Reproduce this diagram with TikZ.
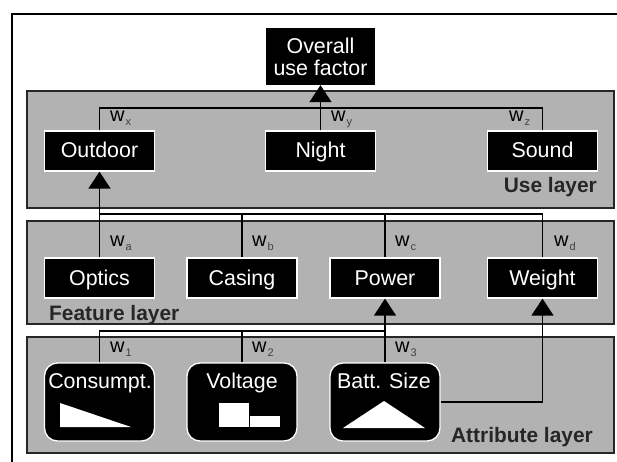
\documentclass[tikz,border=0pt]{standalone}
\usepackage{fontspec}
\setmainfont{Liberation Sans}
\usetikzlibrary{arrows.meta}
\definecolor{panelgray}{HTML}{B2B2B2}
\definecolor{subgray}{HTML}{404040}
\tikzset{
  panel/.style={draw=black!85,line width=1.5pt,fill=panelgray},
  box/.style={draw=white,line width=1.3pt,fill=black,text=white,minimum width=110pt,minimum height=40pt,inner sep=0pt,text height=14pt,text depth=0pt,font=\fontsize{21.4}{24}\selectfont},
  rbox/.style={draw=white,line width=1.3pt,fill=black,rounded corners=13pt,minimum width=110pt,minimum height=78pt,inner sep=0pt},
  rtext/.style={text=white,inner sep=0pt,anchor=base,font=\fontsize{21.4}{24}\selectfont},
  topbox/.style={fill=black,text=white,minimum width=109pt,minimum height=57pt,inner sep=0pt,align=center,font=\fontsize{21.4}{22}\selectfont},
  layerlabel/.style={inner sep=0pt,text=black!85,font=\fontsize{20.9}{22}\selectfont\bfseries},
  wlabel/.style={inner sep=0pt,anchor=base west,font=\fontsize{20}{22}\selectfont},
  wire/.style={draw=black,line width=1.5pt},
  arrowwire/.style={wire,-{Triangle[length=17pt,width=22pt]}},
  glyph/.style={fill=white,draw=none}
}
\newcommand{\wsub}[1]{w\raisebox{-4pt}{\hspace{1pt}\textcolor{subgray}{\fontsize{11}{11}\selectfont #1}}}
\begin{document}
\begin{tikzpicture}[x=1pt,y=-1pt]
\useasboundingbox (0,0) rectangle (617,462);
\fill[white] (0,0) rectangle (617,462);
\coordinate (ftl) at (12,14);
\coordinate (ftr) at (617,14);
\coordinate (fbl) at (12,462);
\draw[black,line width=1.5pt] (fbl) -- (ftl) -- (ftr);

% layers
\path[panel] (27,91) rectangle (614,208);
\path[panel] (27,221) rectangle (614,324);
\path[panel] (27,337) rectangle (614,453);

% bus points
\coordinate (ubus1) at (99.5,108);
\coordinate (ubus2) at (542.5,108);
\coordinate (fbus1) at (99.5,214);
\coordinate (fbus2) at (242,214);
\coordinate (fbus3) at (385,214);
\coordinate (fbus4) at (542.5,214);
\coordinate (abus1) at (99.5,331);
\coordinate (abus2) at (242,331);
\coordinate (abus3) at (385,331);
\coordinate (wcorner) at (542.5,402);

\node[topbox] (top) at (320.5,56.5) {Overall\\use factor};
\node[box] (outdoor) at (99.5,151) {Outdoor};
\node[box] (night) at (320.5,151) {Night};
\node[box] (sound) at (542.5,151) {Sound};
\node[box] (optics) at (99.5,278) {Optics};
\node[box] (casing) at (242,278) {Casing};
\node[box] (power) at (385,278) {Power};
\node[box] (weight) at (542.5,278) {Weight};
\node[rbox] (cons) at (99.5,402) {};
\node[rbox] (volt) at (242,402) {};
\node[rbox] (batt) at (385,402) {};

% connectors
\draw[wire] (outdoor.north) -- (ubus1) -- (ubus2) -- (sound.north);
\draw[arrowwire] (night.north) -- (top.south);
\draw[arrowwire] (optics.north) -- (outdoor.south);
\draw[wire] (fbus1) -- (fbus4) -- (weight.north);
\draw[wire] (fbus2) -- (casing.north);
\draw[wire] (fbus3) -- (power.north);
\draw[wire] (cons.north) -- (abus1) -- (abus3);
\draw[wire] (abus2) -- (volt.north);
\draw[arrowwire] (batt.north) -- (power.south);
\draw[wire] (batt.east) -- (wcorner);
\draw[arrowwire] (wcorner) -- (weight.south);

% node contents
\node[rtext] (tcons) at (100,388) {Consumpt.};
\node[rtext] (tvolt) at (242,388) {Voltage};
\node[rtext] (tbatt) at (384,388) {Batt. Size};
\fill[glyph] (60,403) -- (60,427) -- (131,427) -- cycle;
\fill[glyph] (219,403) rectangle (249,427);
\fill[glyph] (250,416) rectangle (280,427);
\fill[glyph] (343,428) -- (384,401) -- (425,428) -- cycle;

% weights
\node[wlabel] (wx) at (110,122) {\wsub{x}};
\node[wlabel] (wy) at (331,122) {\wsub{y}};
\node[wlabel] (wz) at (509,122) {\wsub{z}};
\node[wlabel] (wa) at (110,246) {\wsub{a}};
\node[wlabel] (wb) at (252,246) {\wsub{b}};
\node[wlabel] (wc) at (395,246) {\wsub{c}};
\node[wlabel] (wd) at (554,246) {\wsub{d}};
\node[wlabel] (w1) at (110,352) {\wsub{1}};
\node[wlabel] (w2) at (252,352) {\wsub{2}};
\node[wlabel] (w3) at (395,352) {\wsub{3}};

% layer labels
\node[layerlabel,anchor=east] (lu) at (597,187) {Use layer};
\node[layerlabel,anchor=west] (lf) at (49,315) {Feature layer};
\node[layerlabel,anchor=east] (la) at (593,437) {Attribute layer};
\end{tikzpicture}
\end{document}
